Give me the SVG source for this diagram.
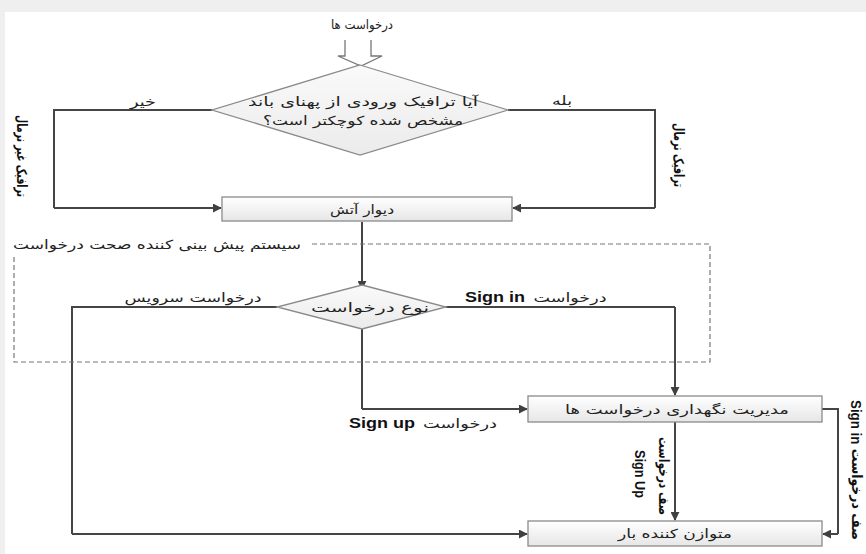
<svg xmlns="http://www.w3.org/2000/svg" width="866" height="554" viewBox="0 0 866 554">
<defs>
<linearGradient id="gbox" x1="0" y1="0" x2="0" y2="1"><stop offset="0" stop-color="#ffffff"/><stop offset="1" stop-color="#e6e6e6"/></linearGradient>
<linearGradient id="gdia" x1="0" y1="0" x2="0" y2="1"><stop offset="0" stop-color="#fafafa"/><stop offset="1" stop-color="#ebebeb"/></linearGradient>
<marker id="ah" viewBox="0 0 10 10" refX="9" refY="5" markerWidth="9" markerHeight="9" markerUnits="userSpaceOnUse" orient="auto"><path d="M0,0 L10,5 L0,10 z" fill="#404040"/></marker>
</defs>
<style>
.fa{font-family:"DejaVu Sans","Noto Sans",sans-serif;font-size:12.5px;fill:#222}
.fab{font-family:"DejaVu Sans","Noto Sans",sans-serif;font-size:14px;font-weight:bold;fill:#111}
.en{font-family:"Liberation Sans",Arial,sans-serif;font-size:15px;font-weight:bold;fill:#111}
.box{fill:url(#gbox);stroke:#8a8a8a;stroke-width:1.3}
.dia{fill:url(#gdia);stroke:#8a8a8a;stroke-width:1.3}
.ln{fill:none;stroke:#454545;stroke-width:2}
.ar{fill:none;stroke:#454545;stroke-width:2;marker-end:url(#ah)}
.dash{fill:none;stroke:#777;stroke-width:1.2;stroke-dasharray:5,3}
</style>
<rect x="0" y="0" width="866" height="554" fill="#efefef"/>
<rect x="5" y="12" width="861" height="542" fill="#ffffff"/>

<g id="input">
<text class="fa" x="362" y="29" text-anchor="middle" textLength="62" lengthAdjust="spacingAndGlyphs">درخواست ها</text>
<path d="M345,40 V56 H338 L361,66 L382,56 H371 V40" fill="#fff" stroke="#777" stroke-width="1.3"/>
</g>

<g id="connectors">
<path class="ln" d="M212,110 H54 V208"/>
<path class="ar" d="M54,208 H221"/>
<path class="ln" d="M508,110 H655 V208"/>
<path class="ar" d="M655,208 H513"/>
<path class="ar" d="M362,222 V289"/>
<path class="ln" d="M277,307 H72 V534"/>
<path class="ar" d="M72,534 H527"/>
<path class="ln" d="M446,307 H675"/>
<path class="ar" d="M675,307 V395"/>
<path class="ln" d="M362,329 V409"/>
<path class="ar" d="M362,409 H527"/>
<path class="ar" d="M675,422 V520"/>
<path class="ln" d="M822,409 H838 V534"/>
<path class="ar" d="M838,534 H823"/>
</g>

<g id="decision1">
<polygon class="dia" points="360,65 508,110 360,155 212,110"/>
<text class="fa" x="363" y="106" text-anchor="middle" font-size="14" textLength="230" lengthAdjust="spacingAndGlyphs">آیا ترافیک ورودی از پهنای باند</text>
<text class="fa" x="363" y="125" text-anchor="middle" font-size="14" textLength="200" lengthAdjust="spacingAndGlyphs">مشخص شده کوچکتر است؟</text>
</g>
<g id="label-no"><text class="fa" x="143" y="106" text-anchor="middle" textLength="26" lengthAdjust="spacingAndGlyphs">خیر</text></g>
<g id="label-yes"><text class="fa" x="562" y="105" text-anchor="middle" textLength="20" lengthAdjust="spacingAndGlyphs">بله</text></g>
<g id="label-abnormal"><text class="fab" transform="translate(22,156) rotate(90)" text-anchor="middle" dominant-baseline="central" textLength="82" lengthAdjust="spacingAndGlyphs">ترافیک غیر نرمال</text></g>
<g id="label-normal"><text class="fab" transform="translate(679,155) rotate(90)" text-anchor="middle" dominant-baseline="central" textLength="64" lengthAdjust="spacingAndGlyphs">ترافیک نرمال</text></g>

<g id="firewall">
<rect class="box" x="222" y="197" width="290" height="24"/>
<text class="fa" x="362" y="214" text-anchor="middle" textLength="64" lengthAdjust="spacingAndGlyphs">دیوار آتش</text>
</g>

<g id="prediction-system">
<path class="dash" d="M312,244 H710 V362 H14 V254"/>
<text class="fa" x="157" y="249" text-anchor="middle" textLength="288" lengthAdjust="spacingAndGlyphs">سیستم پیش بینی کننده صحت درخواست</text>
</g>

<g id="decision2">
<polygon class="dia" points="362,285 446,307 362,329 277,307"/>
<text class="fa" x="370" y="312" text-anchor="middle" textLength="118" lengthAdjust="spacingAndGlyphs">نوع درخواست</text>
</g>
<g id="label-service"><text class="fa" x="193" y="302" text-anchor="middle" textLength="137" lengthAdjust="spacingAndGlyphs">درخواست سرویس</text></g>
<g id="label-signin">
<text class="en" x="465" y="302" textLength="60" lengthAdjust="spacingAndGlyphs">Sign in</text>
<text class="fa" x="570" y="302" text-anchor="middle" textLength="73" lengthAdjust="spacingAndGlyphs">درخواست</text>
</g>
<g id="label-signup">
<text class="en" x="349" y="428" textLength="66" lengthAdjust="spacingAndGlyphs">Sign up</text>
<text class="fa" x="460" y="428" text-anchor="middle" textLength="74" lengthAdjust="spacingAndGlyphs">درخواست</text>
</g>

<g id="request-manager">
<rect class="box" x="528" y="396" width="294" height="26"/>
<text class="fa" x="677" y="414" text-anchor="middle" textLength="224" lengthAdjust="spacingAndGlyphs">مدیریت نگهداری درخواست ها</text>
</g>

<g id="label-queue-signup">
<text class="fab" transform="translate(664,476) rotate(90)" text-anchor="middle" dominant-baseline="central" textLength="78" lengthAdjust="spacingAndGlyphs">صف درخواست</text>
<text class="en" transform="translate(640,474) rotate(90)" text-anchor="middle" dominant-baseline="central" font-size="14" textLength="48" lengthAdjust="spacingAndGlyphs">Sign Up</text>
</g>
<g id="label-queue-signin">
<text class="fab" transform="translate(857,470) rotate(90)" text-anchor="middle" dominant-baseline="central" direction="rtl" textLength="140" lengthAdjust="spacingAndGlyphs">صف درخواست <tspan class="en" font-size="14">Sign in</tspan></text>
</g>

<g id="load-balancer">
<rect class="box" x="528" y="521" width="294" height="25"/>
<text class="fa" x="675" y="538" text-anchor="middle" textLength="114" lengthAdjust="spacingAndGlyphs">متوازن کننده بار</text>
</g>
</svg>
